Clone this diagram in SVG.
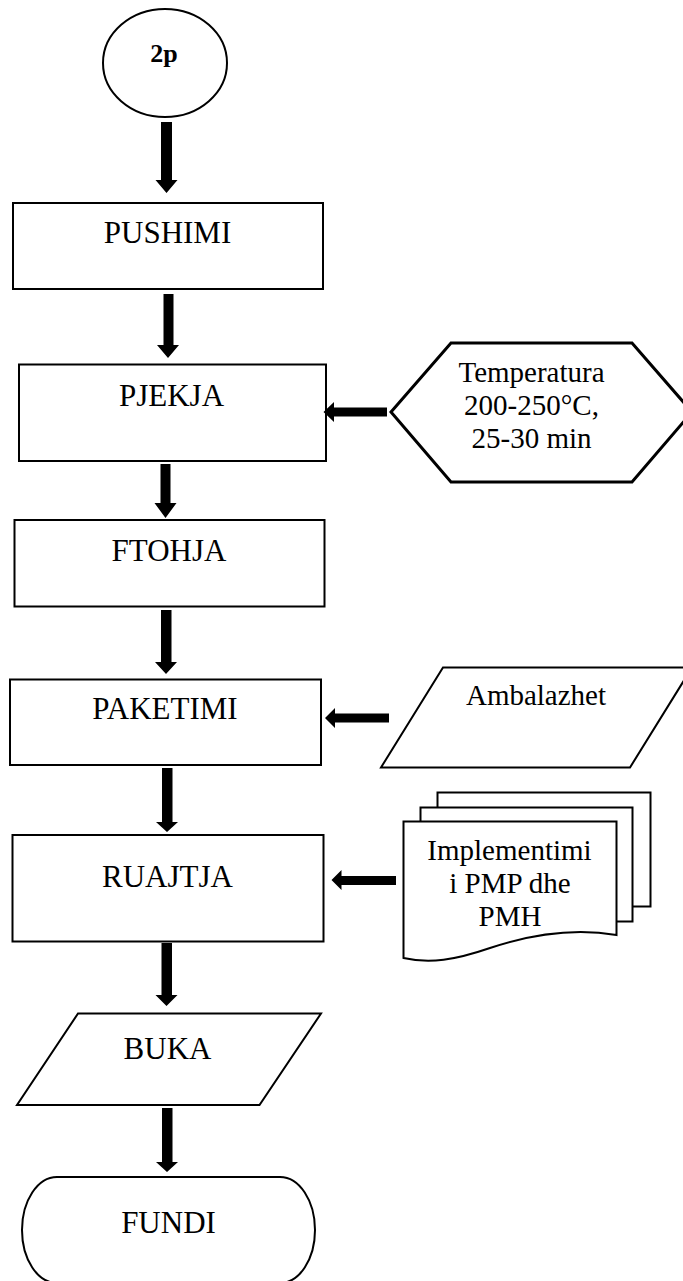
<svg xmlns="http://www.w3.org/2000/svg" width="683" height="1281" viewBox="0 0 683 1281">
<style>
.shape{fill:#fff;stroke:#000;stroke-width:2}
.thick{stroke-width:3}
.t{font-family:"Liberation Serif","Times New Roman",serif;font-size:31px;fill:#000;text-anchor:middle}
.s{font-size:29px}
.b{font-weight:bold;font-size:26px}
.arr{fill:#000;stroke:none}
</style>
<rect width="683" height="1281" fill="#fff"/>
<g id="start">
<ellipse class="shape" cx="165" cy="63" rx="62" ry="54"/>
<text class="t b" x="164" y="62">2p</text>
</g>
<g id="pushimi">
<rect class="shape" x="13" y="203" width="310" height="86"/>
<text class="t" x="167.5" y="243">PUSHIMI</text>
</g>
<g id="pjekja">
<rect class="shape" x="19" y="364.5" width="307" height="96.5"/>
<text class="t" x="171.5" y="405.5">PJEKJA</text>
</g>
<g id="temperatura">
<polygon class="shape thick" points="391,412 451,343 632,343 692,412 632,482 451,482"/>
<text class="t s" x="531.5" y="381.5">Temperatura</text>
<text class="t s" x="531.5" y="415">200-250°C,</text>
<text class="t s" x="531.5" y="448">25-30 min</text>
</g>
<g id="ftohja">
<rect class="shape" x="14.5" y="520" width="310" height="86.5"/>
<text class="t" x="169" y="560.5">FTOHJA</text>
</g>
<g id="paketimi">
<rect class="shape" x="10" y="679.5" width="311" height="85.5"/>
<text class="t" x="165" y="719">PAKETIMI</text>
</g>
<g id="ambalazhet">
<polygon class="shape" points="443,667.5 692,667.5 630,767.5 381,767.5"/>
<text class="t s" x="536" y="705">Ambalazhet</text>
</g>
<g id="ruajtja">
<rect class="shape" x="12.5" y="835" width="311" height="106.5"/>
<text class="t" x="167.5" y="886.5">RUAJTJA</text>
</g>
<g id="implementimi">
<rect class="shape" x="437.5" y="792.5" width="213" height="114"/>
<rect class="shape" x="420.5" y="807.5" width="212" height="114"/>
<path class="shape" d="M403.5,821.5 H616.5 V935 C575,928 535,933 490,948 C455,960 430,964 403.5,958 Z"/>
<text class="t s" x="509.5" y="860">Implementimi</text>
<text class="t s" x="510" y="893">i PMP dhe</text>
<text class="t s" x="510" y="926">PMH</text>
</g>
<g id="buka">
<polygon class="shape" points="78,1013.5 321,1013.5 259.5,1105 17,1105"/>
<text class="t" x="167.5" y="1059">BUKA</text>
</g>
<g id="fundi">
<path class="shape" d="M57,1177 H280 A35,53 0 0 1 280,1283 H57 A35,53 0 0 1 57,1177 Z"/>
<text class="t" x="168.5" y="1233">FUNDI</text>
</g>
<g id="connectors" class="arr">
<polygon points="161,122 172,122 172,180 177.5,180 166.5,193 155.5,180 161,180"/>
<polygon points="163.5,294 173.5,294 173.5,345 179,345 168,358 157,345 163.5,345"/>
<polygon points="160.5,464 170.5,464 170.5,503 176.5,503 165.5,518 154.5,503 160.5,503"/>
<polygon points="161,610 171.5,610 171.5,662 177,662 166,674 155,662 161,662"/>
<polygon points="162,768 172.5,768 172.5,822 178,822 167,832 156,822 162,822"/>
<polygon points="161.5,943 172,943 172,995 177.5,995 166.5,1006 155.5,995 161.5,995"/>
<polygon points="162,1108 172.5,1108 172.5,1162 178,1162 167,1172 156,1162 162,1162"/>
<polygon points="387,407.5 387,416.5 334,416.5 334,422 323.5,412 334,402 334,407.5"/>
<polygon points="389,713.5 389,722.5 335,722.5 335,728 325,718 335,708 335,713.5"/>
<polygon points="396,876 396,885 341.5,885 341.5,890 331.5,880 341.5,870 341.5,876"/>
</g>
</svg>
